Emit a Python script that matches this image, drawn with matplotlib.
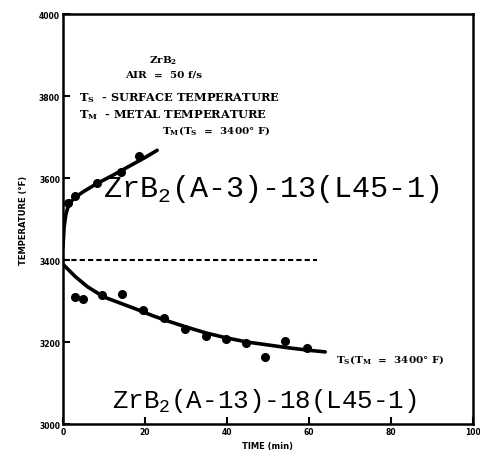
import numpy as np
import matplotlib
matplotlib.use("Agg")
import matplotlib.pyplot as plt

# metal temperature (T_S held at 3400 F)
metal_t = [1.2, 2.9, 8.4, 14.2, 18.6]
metal_T = [3540, 3557, 3587, 3616, 3653]
metal_fit_t = [0, 0.3, 0.7, 1.2, 2, 3, 5, 8, 12, 16, 20, 23]
metal_fit_T = [3430, 3480, 3510, 3528, 3543, 3553, 3567, 3585, 3606, 3628, 3650, 3668]

# surface temperature (T_M held at 3400 F)
surf_t = [2.9, 4.8, 9.6, 14.5, 19.5, 24.6, 29.9, 34.9, 39.8, 44.6, 49.4, 54.2, 59.5]
surf_T = [3311, 3306, 3315, 3318, 3279, 3259, 3232, 3215, 3208, 3198, 3164, 3203, 3186]
surf_fit_t = [0, 3, 6, 10, 14, 18, 22, 26, 30, 35, 40, 45, 50, 55, 60, 64]
surf_fit_T = [3390, 3360, 3335, 3310, 3295, 3280, 3264, 3250, 3237, 3222, 3210, 3200, 3193, 3186, 3180, 3176]

ref_t = [0, 62]
ref_T = [3400, 3400]

x_ticks = [0, 20, 40, 60, 80, 100]
y_ticks = [3000, 3200, 3400, 3600, 3800, 4000]

fig = plt.figure(figsize=(4.8, 4.6), dpi=100)
ax = fig.add_axes([0.131, 0.076, 0.854, 0.891])

ax.plot(metal_fit_t, metal_fit_T, color='black', lw=2.6, solid_capstyle='round')
ax.plot(metal_t, metal_T, 'o', color='black', ms=5.5)
ax.plot(surf_fit_t, surf_fit_T, color='black', lw=2.6, solid_capstyle='round')
ax.plot(surf_t, surf_T, 'o', color='black', ms=5.5)
ax.plot(ref_t, ref_T, color='black', lw=1.5, dashes=(2.5, 1.5))

ax.set_xlim(0, 100)
ax.set_ylim(3000, 4000)
ax.set_xticks(x_ticks)
ax.set_yticks(y_ticks)
ax.tick_params(direction='in', length=5, width=1.5, labelsize=5.5, pad=2)
for lab in ax.get_xticklabels() + ax.get_yticklabels():
    lab.set_fontweight('bold')
for s in ax.spines.values():
    s.set_linewidth(1.8)

ax.set_xlabel('TIME (min)', fontsize=6, fontweight='bold', labelpad=4)
ax.set_ylabel('TEMPERATURE (\u00b0F)', fontsize=6, fontweight='bold', labelpad=8)

small = dict(fontsize=7.5, fontweight='bold', family='DejaVu Serif', transform=ax.transData)
ax.text(24.5, 3890, 'ZrB$_\\mathregular{2}$', ha='center', va='center', **small)
ax.text(24.5, 3853, 'AIR  =  50 f/s', ha='center', va='center', **small)
ax.text(4, 3797, 'T$_\\mathregular{S}$  - SURFACE TEMPERATURE', ha='left', va='center',
        fontsize=8.2, fontweight='bold', family='DejaVu Serif')
ax.text(4, 3757, 'T$_\\mathregular{M}$  - METAL TEMPERATURE', ha='left', va='center',
        fontsize=8.2, fontweight='bold', family='DejaVu Serif')
ax.text(24.3, 3718, 'T$_\\mathregular{M}$(T$_\\mathregular{S}$  =  3400\u00b0 F)', ha='left', va='center', **small)
ax.text(66.7, 3158, 'T$_\\mathregular{S}$(T$_\\mathregular{M}$  =  3400\u00b0 F)', ha='left', va='center', **small)

big = dict(family='Liberation Mono', transform=ax.transData)
ax.text(9.7, 3575, 'ZrB$_\\mathregular{2}$(A-3)-13(L45-1)', fontsize=21.7, ha='left', va='center', **big)
ax.text(12, 3058, 'ZrB$_\\mathregular{2}$(A-13)-18(L45-1)', fontsize=18.6, ha='left', va='center', **big)

fig.savefig('out.png', dpi=100)
